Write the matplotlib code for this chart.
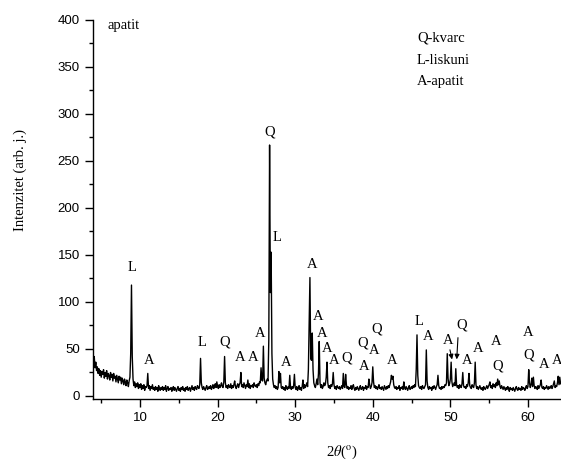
import numpy as np
import matplotlib
matplotlib.use('Agg')
import matplotlib.pyplot as plt
from matplotlib.ticker import MultipleLocator

# XRD pattern, 2theta from 4.0 to 64.2 in 0.1 deg steps (one row per degree)
intensity = [
    34, 42, 30, 36, 27, 31, 24, 29, 22, 27,      # 4
    20, 26, 23, 28, 19, 25, 21, 27, 18, 24,      # 5
    22, 17, 25, 20, 23, 16, 24, 19, 21, 15,      # 6
    22, 18, 14, 21, 17, 20, 13, 19, 16, 12,      # 7
    18, 15, 11, 17, 14, 10, 16, 20, 45, 118,     # 8
    42, 18, 11, 15, 9, 13, 10, 14, 8, 12,        # 9
    9, 13, 7, 11, 8, 12, 6, 10, 9, 11,           # 10
    24, 8, 11, 6, 10, 8, 12, 7, 9, 6,            # 11
    10, 7, 9, 5, 11, 8, 6, 9, 7, 10,             # 12
    6, 9, 7, 11, 5, 8, 10, 6, 8, 7,              # 13
    9, 5, 8, 10, 6, 9, 7, 5, 8, 10,              # 14
    6, 8, 5, 9, 7, 10, 6, 8, 5, 9,               # 15
    7, 10, 6, 8, 9, 5, 8, 11, 7, 9,              # 16
    6, 10, 8, 7, 11, 9, 8, 12, 40, 14,           # 17
    9, 7, 10, 8, 6, 9, 11, 7, 8, 10,             # 18
    8, 11, 7, 9, 12, 8, 10, 13, 9, 15,           # 19
    10, 8, 12, 9, 11, 14, 10, 9, 15, 42,         # 20
    14, 9, 11, 8, 12, 10, 9, 13, 8, 11,          # 21
    9, 12, 16, 10, 8, 11, 13, 9, 12, 14,         # 22
    25, 10, 12, 9, 14, 11, 8, 12, 10, 17,        # 23
    9, 13, 8, 11, 10, 12, 9, 14, 11, 10,         # 24
    12, 9, 13, 11, 15, 14, 30, 17, 16, 53,       # 25
    19, 14, 12, 16, 18, 16, 60, 267, 110, 153,   # 26
    45, 18, 12, 9, 11, 8, 10, 7, 9, 26,          # 27
    14, 24, 9, 8, 10, 7, 9, 6, 11, 8,            # 28
    7, 10, 8, 22, 9, 7, 10, 8, 11, 23,           # 29
    9, 7, 10, 6, 8, 11, 7, 9, 6, 10,             # 30
    17, 8, 12, 9, 11, 14, 10, 28, 80, 126,       # 31
    40, 38, 67, 28, 14, 11, 9, 13, 18, 12,       # 32
    24, 58, 14, 9, 12, 8, 10, 14, 11, 13,        # 33
    20, 36, 14, 9, 11, 8, 12, 10, 13, 25,        # 34
    12, 8, 10, 7, 11, 9, 8, 10, 7, 9,            # 35
    11, 8, 24, 10, 9, 23, 12, 8, 10, 7,          # 36
    9, 8, 11, 7, 10, 12, 8, 6, 9, 7,             # 37
    10, 8, 6, 9, 11, 7, 8, 10, 6, 9,             # 38
    8, 11, 7, 10, 9, 18, 12, 8, 10, 14,          # 39
    31, 15, 9, 11, 8, 10, 7, 9, 12, 8,           # 40
    9, 7, 10, 8, 6, 11, 9, 7, 10, 8,             # 41
    11, 9, 12, 15, 22, 18, 21, 12, 9, 8,         # 42
    10, 7, 9, 8, 11, 6, 9, 8, 10, 7,             # 43
    15, 9, 7, 10, 8, 6, 9, 11, 7, 8,             # 44
    10, 8, 11, 9, 12, 10, 28, 65, 22, 11,        # 45
    9, 8, 10, 7, 11, 9, 8, 10, 12, 49,           # 46
    16, 9, 7, 10, 8, 9, 6, 10, 8, 11,            # 47
    9, 7, 10, 12, 22, 11, 8, 9, 7, 10,           # 48
    8, 10, 9, 12, 11, 14, 45, 19, 11, 13,        # 49
    18, 36, 15, 10, 12, 14, 11, 29, 12, 9,       # 50
    11, 8, 12, 10, 9, 13, 25, 11, 9, 10,         # 51
    8, 12, 10, 14, 24, 11, 9, 8, 12, 10,         # 52
    9, 14, 36, 12, 8, 10, 7, 9, 11, 8,           # 53
    7, 9, 6, 10, 8, 7, 9, 11, 8, 10,             # 54
    12, 15, 9, 11, 8, 13, 10, 12, 9, 14,         # 55
    11, 18, 12, 16, 10, 8, 11, 9, 7, 10,         # 56
    8, 6, 9, 7, 10, 8, 5, 9, 7, 8,               # 57
    6, 9, 7, 5, 8, 10, 7, 6, 9, 7,               # 58
    8, 6, 10, 7, 9, 8, 6, 9, 11, 8,              # 59
    10, 28, 14, 9, 12, 19, 10, 20, 11, 8,        # 60
    10, 9, 7, 11, 8, 10, 12, 17, 9, 8,           # 61
    10, 7, 9, 8, 11, 9, 7, 10, 8, 9,             # 62
    11, 8, 10, 13, 16, 9, 11, 10, 14, 21,        # 63
    12, 20, 13,                                  # 64
]
two_theta = np.round(4.0 + 0.1 * np.arange(len(intensity)), 1)

# phase labels: letter, 2theta, label height
label_text = ['L', 'A', 'L', 'Q', 'A', 'A', 'A', 'Q', 'L', 'A',
              'A', 'A', 'A', 'A', 'A', 'Q', 'Q', 'A', 'Q', 'A',
              'A', 'L', 'A', 'A', 'Q', 'A', 'A', 'A', 'Q', 'A',
              'Q', 'A', 'A']
label_x = [8.97, 11.16, 18.0, 20.97, 22.9, 24.62, 25.52, 26.77, 27.7, 28.8,
           32.23, 33.0, 33.5, 34.17, 34.97, 36.7, 38.65, 38.86, 40.45, 40.23,
           42.5, 45.9, 47.16, 49.74, 51.4, 52.2, 53.6, 55.9, 56.05, 60.06,
           60.06, 62.1, 63.75]
label_y = [137, 38, 57, 57, 41, 41, 67, 281, 169, 36,
           140, 85, 67, 51, 38, 40, 56, 31, 71, 48,
           38, 79, 63, 59, 75, 38, 51, 58, 32, 68,
           44, 33, 38]

serif = 'Liberation Serif'
plt.rcParams['font.family'] = 'Liberation Sans'
plt.rcParams['mathtext.fontset'] = 'stix'

fig = plt.figure(figsize=(5.61, 4.62), dpi=100)
ax = fig.add_axes([93 / 561, 1 - 399 / 462, 468 / 561, 379 / 462])

ax.plot(two_theta, intensity, color='black', linewidth=1.0)

ax.set_xlim(3.94, 64.26)
ax.set_ylim(-3.2, 400)
ax.spines['top'].set_visible(False)
ax.spines['right'].set_visible(False)
ax.xaxis.set_major_locator(MultipleLocator(10))
ax.xaxis.set_minor_locator(MultipleLocator(5))
ax.yaxis.set_major_locator(MultipleLocator(50))
ax.yaxis.set_minor_locator(MultipleLocator(25))
ax.tick_params(which='major', length=5.5, width=1, labelsize=9.5, pad=4)
ax.tick_params(which='minor', length=3, width=1)
for s in ax.spines.values():
    s.set_linewidth(1)

for t, x, y in zip(label_text, label_x, label_y):
    ax.text(x, y, t, ha='center', va='center', fontsize=10.5, family=serif,
            clip_on=False)

# arrows pointing to the two peaks near 50 deg
arrow = dict(arrowstyle='-|>', color='black', lw=0.8, mutation_scale=7)
ax.annotate('', xy=(50.3, 36), xytext=(49.87, 52), arrowprops=arrow)
ax.annotate('', xy=(50.8, 36), xytext=(51.0, 65), arrowprops=arrow)

fig.text(108 / 561, 1 - 25 / 462, 'apatit', ha='left', va='center',
         fontsize=10.5, family=serif)
fig.text(417 / 561, 1 - 38 / 462, 'Q-kvarc', ha='left', va='center',
         fontsize=10.5, family=serif)
fig.text(417 / 561, 1 - 60 / 462, 'L-liskuni', ha='left', va='center',
         fontsize=10.5, family=serif)
fig.text(417 / 561, 1 - 82 / 462, 'A-apatit', ha='left', va='center',
         fontsize=10.5, family=serif)

fig.text(20 / 561, 1 - 180 / 462, 'Intenzitet (arb. j.)', rotation=90,
         ha='center', va='center', fontsize=10.5, family=serif)
fig.text(342 / 561, 1 - 452 / 462, r'2$\theta$($^{\rm o}$)', ha='center',
         va='center', fontsize=10.5, family=serif)

fig.savefig('out.png', dpi=100)
